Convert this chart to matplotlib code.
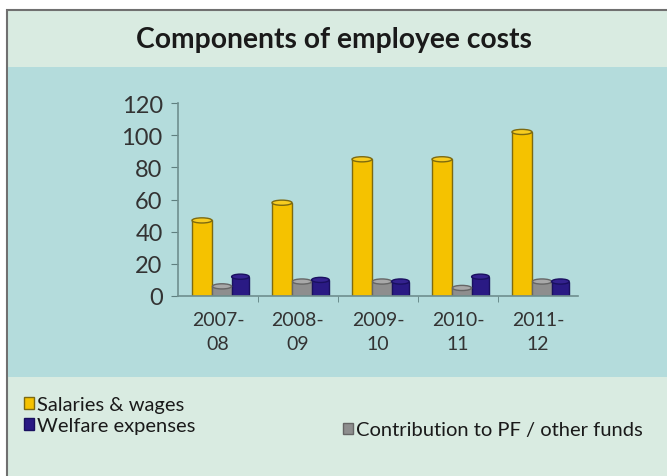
import numpy as np
import matplotlib.pyplot as plt
from matplotlib.patches import Rectangle, Ellipse

plt.rcParams["font.family"] = ["Lato", "DejaVu Sans"]

categories = ["2007-\n08", "2008-\n09", "2009-\n10", "2010-\n11", "2011-\n12"]
salaries = [47, 58, 85, 85, 102]
pf_funds = [6, 9, 9, 5, 9]
welfare = [12, 10, 9, 12, 9]

W, H = 667, 477
fig = plt.figure(figsize=(W / 100, H / 100), dpi=100)

# background panels (pixel coordinates from the top-left)
def px_rect(x0, y0, x1, y1, **kw):
    fig.patches.append(Rectangle((x0 / W, 1 - y1 / H), (x1 - x0) / W, (y1 - y0) / H,
                                 transform=fig.transFigure, figure=fig, zorder=-10, **kw))

px_rect(7, 11, W + 5, H + 5, facecolor="#d9ebe1", edgecolor="#707070", linewidth=1.5)
px_rect(8, 68, W, 378, facecolor="#b4dcdc", edgecolor="none")

fig.text(0.5, 1 - 40 / H, "Components of employee costs", ha="center", va="center",
         fontsize=20.3, fontweight="bold", color="#1a1a1a")

ax = fig.add_axes([178 / W, 1 - 297 / H, 400 / W, 193 / H])
ax.set_facecolor("none")

x = np.arange(len(categories))
series = [
    (salaries, -0.20, 0.25, "#f5c200", "#7d6a10", "#f7cc20", "Salaries & wages"),
    (pf_funds, 0.05, 0.24, "#8e8e8e", "#666666", "#a8a8a8", "Contribution to PF / other funds"),
    (welfare, 0.28, 0.22, "#2a1a84", "#1a1060", "#34228f", "Welfare expenses"),
]
handles = {}
for vals, off, w, fc, ec, top, label in series:
    bars = ax.bar(x + off, vals, w, color=fc, edgecolor=ec, linewidth=1, label=label, zorder=2)
    handles[label] = bars
    for b in bars:
        ax.add_patch(Ellipse((b.get_x() + w / 2, b.get_height()), w, 3.2,
                             facecolor=top, edgecolor=ec, linewidth=1, zorder=3))

ax.set_xlim(-0.5, len(categories) - 0.5)
ax.set_ylim(0, 120)
ax.set_yticks(range(0, 121, 20))
ax.set_xticks(x)
ax.set_xticklabels(categories, fontsize=14, color="#333333", linespacing=1.45)
ax.set_xticks(np.arange(0.5, len(categories) - 0.5, 1), minor=True)
ax.tick_params(axis="x", which="major", length=0, pad=11)
ax.tick_params(axis="x", which="minor", length=4, color="#5f7f7f", direction="out")
ax.tick_params(axis="y", length=5, color="#5f7f7f", labelsize=17, labelcolor="#333333", pad=6)
for s in ["top", "right"]:
    ax.spines[s].set_visible(False)
for s in ["left", "bottom"]:
    ax.spines[s].set_color("#6f8f8f")
    ax.spines[s].set_linewidth(1.2)

leg_kw = dict(loc="center left", frameon=False, fontsize=14.5, handlelength=0.5,
              handleheight=0.5, handletextpad=0.15, borderaxespad=0, borderpad=0)
leg1 = fig.legend([handles["Salaries & wages"], handles["Welfare expenses"]],
                  ["Salaries & wages", "Welfare expenses"],
                  bbox_to_anchor=(24 / W, 1 - 416 / H), labelspacing=0.2, **leg_kw)
leg2 = fig.legend([handles["Contribution to PF / other funds"]],
                  ["Contribution to PF / other funds"],
                  bbox_to_anchor=(343 / W, 1 - 431 / H), **leg_kw)
for t in leg1.get_texts() + leg2.get_texts():
    t.set_color("#1a1a1a")

fig.savefig("out.png", dpi=100)
